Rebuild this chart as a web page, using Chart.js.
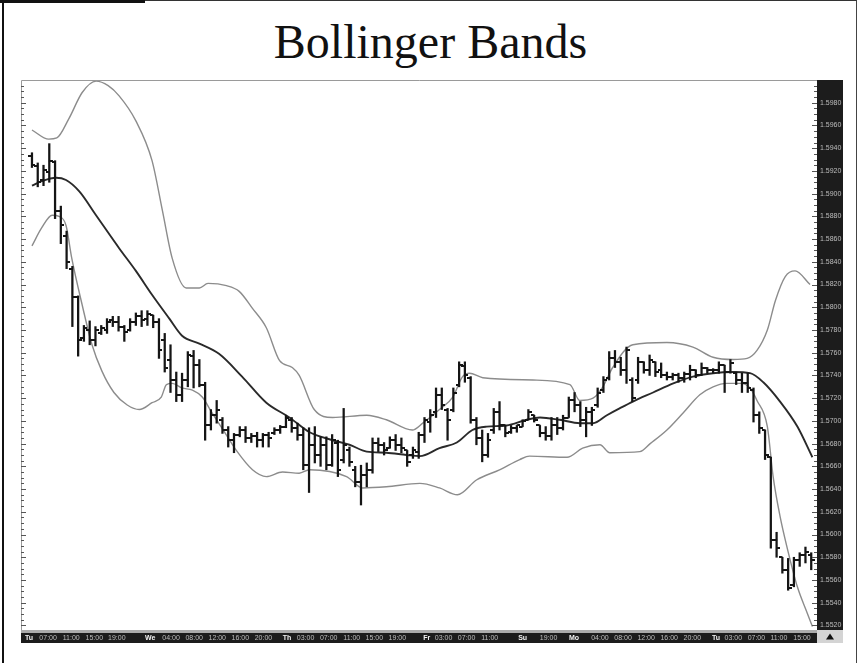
<!DOCTYPE html>
<html>
<head>
<meta charset="utf-8">
<script src="https://cdn.jsdelivr.net/npm/chart.js@4.4.1/dist/chart.umd.min.js"></script>
<style>
  html, body { margin: 0; padding: 0; background: #fff; }
  #wrap { position: relative; width: 861px; height: 663px; overflow: hidden; }
  #frame { position: absolute; left: 2px; top: 0; width: 855px; height: 663px;
           border-left: 2px solid #111; border-top: 1px solid #333; border-right: 1px solid #444; box-sizing: border-box; }
  #bar { position: absolute; left: 0; top: 0; width: 145px; height: 3px; background: #111; }
  #title { position: absolute; left: 0; width: 861px; top: 18px; text-align: center;
           font-family: "Liberation Serif", "DejaVu Serif", serif; font-size: 48px; line-height: 48px; color: #111; }
  canvas { position: absolute; left: 0; top: 0; }
</style>
</head>
<body>
<div id="wrap">
  <div id="frame"></div>
  <div id="bar"></div>
  <div id="title">Bollinger Bands</div>
  <canvas id="myChart" width="861" height="663"></canvas>
</div>
<script>
// hourly OHLC bars, index 0..135
const highs = [1.5936,1.5927,1.5925,1.5944,1.5929,1.5889,1.5867,1.5836,1.5810,1.5784,
  1.5788,1.5783,1.5784,1.5790,1.5792,1.5792,1.5784,1.5790,1.5795,1.5797,
  1.5797,1.5793,1.5790,1.5777,1.5767,1.5743,1.5742,1.5761,1.5762,1.5754,
  1.5734,1.5710,1.5718,1.5703,1.5695,1.5689,1.5695,1.5695,1.5689,1.5690,
  1.5689,1.5690,1.5694,1.5696,1.5705,1.5703,1.5698,1.5694,1.5694,1.5695,
  1.5686,1.5686,1.5688,1.5683,1.5711,1.5677,1.5660,1.5661,1.5663,1.5685,
  1.5685,1.5681,1.5686,1.5688,1.5685,1.5674,1.5677,1.5690,1.5703,1.5710,
  1.5729,1.5729,1.5711,1.5729,1.5752,1.5752,1.5739,1.5703,1.5692,1.5689,
  1.5711,1.5717,1.5696,1.5696,1.5696,1.5701,1.5710,1.5705,1.5696,1.5695,
  1.5703,1.5703,1.5705,1.5721,1.5725,1.5717,1.5712,1.5712,1.5729,1.5739,
  1.5761,1.5762,1.5756,1.5765,1.5738,1.5756,1.5752,1.5758,1.5752,1.5751,
  1.5743,1.5742,1.5742,1.5743,1.5749,1.5745,1.5751,1.5747,1.5746,1.5752,
  1.5749,1.5754,1.5743,1.5742,1.5742,1.5729,1.5708,1.5692,1.5668,1.5602,
  1.5580,1.5579,1.5580,1.5584,1.5589,1.5584];
const lows = [1.5923,1.5906,1.5907,1.5910,1.5878,1.5856,1.5834,1.5783,1.5757,1.5770,
  1.5767,1.5766,1.5776,1.5777,1.5783,1.5779,1.5770,1.5779,1.5784,1.5783,
  1.5784,1.5782,1.5755,1.5743,1.5725,1.5717,1.5717,1.5730,1.5729,1.5730,
  1.5683,1.5692,1.5698,1.5689,1.5677,1.5672,1.5686,1.5681,1.5681,1.5677,
  1.5677,1.5677,1.5688,1.5689,1.5694,1.5690,1.5683,1.5657,1.5637,1.5663,
  1.5660,1.5657,1.5660,1.5651,1.5663,1.5660,1.5642,1.5626,1.5642,1.5654,
  1.5673,1.5670,1.5676,1.5674,1.5672,1.5660,1.5667,1.5667,1.5681,1.5690,
  1.5703,1.5710,1.5683,1.5708,1.5730,1.5734,1.5698,1.5679,1.5664,1.5668,
  1.5689,1.5692,1.5686,1.5689,1.5690,1.5695,1.5701,1.5699,1.5686,1.5683,
  1.5683,1.5688,1.5692,1.5703,1.5708,1.5695,1.5686,1.5696,1.5712,1.5725,
  1.5736,1.5747,1.5740,1.5733,1.5717,1.5733,1.5742,1.5740,1.5739,1.5738,
  1.5736,1.5736,1.5734,1.5734,1.5736,1.5738,1.5740,1.5742,1.5742,1.5742,
  1.5725,1.5742,1.5732,1.5725,1.5725,1.5699,1.5689,1.5666,1.5588,1.5580,
  1.5566,1.5551,1.5554,1.5572,1.5575,1.5569];
const opens = [1.5933,1.5924,1.5912,1.5919,1.5928,1.5885,1.5863,1.5834,1.5809,1.5773,
  1.5780,1.5771,1.5777,1.5780,1.5789,1.5787,1.5783,1.5780,1.5787,1.5792,
  1.5790,1.5793,1.5787,1.5771,1.5754,1.5736,1.5723,1.5736,1.5757,1.5749,
  1.5732,1.5696,1.5705,1.5701,1.5692,1.5683,1.5688,1.5692,1.5685,1.5687,
  1.5683,1.5688,1.5689,1.5692,1.5695,1.5701,1.5694,1.5688,1.5661,1.5679,
  1.5670,1.5679,1.5661,1.5681,1.5666,1.5674,1.5657,1.5646,1.5652,1.5657,
  1.5681,1.5679,1.5676,1.5683,1.5679,1.5674,1.5670,1.5673,1.5688,1.5699,
  1.5708,1.5723,1.5710,1.5710,1.5732,1.5748,1.5738,1.5701,1.5685,1.5670,
  1.5692,1.5708,1.5696,1.5690,1.5694,1.5695,1.5701,1.5705,1.5696,1.5689,
  1.5687,1.5696,1.5694,1.5703,1.5718,1.5714,1.5701,1.5708,1.5714,1.5727,
  1.5738,1.5755,1.5752,1.5745,1.5736,1.5736,1.5752,1.5745,1.5752,1.5745,
  1.5740,1.5739,1.5740,1.5738,1.5741,1.5745,1.5740,1.5747,1.5745,1.5745,
  1.5749,1.5743,1.5742,1.5736,1.5733,1.5727,1.5705,1.5692,1.5668,1.5595,
  1.5580,1.5569,1.5556,1.5578,1.5582,1.5582];
const closes = [1.5925,1.5910,1.5921,1.5929,1.5885,1.5872,1.5840,1.5809,1.5771,1.5782,
  1.5771,1.5780,1.5782,1.5787,1.5787,1.5783,1.5778,1.5787,1.5792,1.5789,
  1.5794,1.5787,1.5762,1.5747,1.5736,1.5723,1.5736,1.5758,1.5749,1.5732,
  1.5696,1.5705,1.5710,1.5692,1.5683,1.5688,1.5692,1.5685,1.5687,1.5683,
  1.5688,1.5685,1.5692,1.5695,1.5703,1.5694,1.5688,1.5661,1.5679,1.5670,
  1.5679,1.5661,1.5683,1.5657,1.5679,1.5664,1.5646,1.5652,1.5657,1.5681,
  1.5679,1.5674,1.5683,1.5679,1.5676,1.5664,1.5674,1.5688,1.5701,1.5705,
  1.5723,1.5714,1.5701,1.5725,1.5749,1.5740,1.5701,1.5685,1.5670,1.5683,
  1.5708,1.5696,1.5689,1.5694,1.5696,1.5700,1.5708,1.5701,1.5689,1.5687,
  1.5696,1.5694,1.5703,1.5718,1.5714,1.5701,1.5708,1.5710,1.5725,1.5736,
  1.5755,1.5752,1.5745,1.5762,1.5720,1.5752,1.5745,1.5754,1.5743,1.5740,
  1.5739,1.5740,1.5738,1.5741,1.5745,1.5740,1.5747,1.5745,1.5745,1.5749,
  1.5743,1.5751,1.5736,1.5733,1.5729,1.5705,1.5694,1.5670,1.5595,1.5588,
  1.5569,1.5553,1.5578,1.5582,1.5585,1.5578];

// bands at the bar index where they were read
const upperX = [0,2.9,4.3,6.4,8.7,11.1,13.2,15.1,18.0,20.8,22.6,24.3,26.7,29.0,30.5,33.7,35.9,38.2,40.6,42.9,
  45.1,46.3,48.9,52.1,58.0,61.4,65.9,67.7,70.6,72.9,74.6,75.8,78.1,86.8,93.2,94.9,97.2,98.9,100.6,104.1,
  110.0,114.5,118.0,121.5,123.9,125.6,127.4,128.8,130.5,132.2,134.8];
const upperY = [1.5956,1.5948,1.5949,1.5966,1.5989,1.5999,1.5995,1.5986,1.5964,1.5929,1.5885,1.5843,1.5817,1.5817,1.5821,1.5819,1.5814,1.5799,1.5782,1.5753,
  1.5747,1.5740,1.5710,1.5703,1.5705,1.5701,1.5692,1.5698,1.5710,1.5721,1.5739,1.5742,1.5738,1.5736,1.5732,1.5718,1.5720,1.5730,1.5747,1.5767,
  1.5769,1.5765,1.5756,1.5754,1.5755,1.5762,1.5780,1.5806,1.5827,1.5832,1.5820];
const midX = [0,1.7,4.2,5.9,8.2,11.1,15.1,18.0,20.8,23.8,26.0,29.0,32.4,36.4,40.6,44.6,48.1,52.1,55.0,58.0,
  61.4,64.9,67.2,70.6,73.6,76.3,78.8,82.2,85.7,88.0,91.4,94.9,97.2,99.6,101.8,104.1,107.6,111.1,114.5,118.0,
  121.5,124.4,126.7,129.6,132.6,135.2];
const midY = [1.5907,1.5911,1.5914,1.5912,1.5902,1.5881,1.5852,1.5832,1.5811,1.5790,1.5775,1.5768,1.5759,1.5739,1.5716,1.5703,1.5690,1.5683,1.5679,1.5673,
  1.5672,1.5670,1.5669,1.5676,1.5681,1.5692,1.5695,1.5696,1.5701,1.5703,1.5701,1.5698,1.5698,1.5705,1.5711,1.5717,1.5725,1.5733,1.5739,1.5742,
  1.5743,1.5742,1.5734,1.5717,1.5695,1.5668];
const lowerX = [0,1.7,3.5,4.7,5.9,6.9,8.7,10.4,12.1,14.2,16.5,18.6,20.8,22.4,23.3,24.3,26.0,27.8,29.5,31.2,
  33.0,35.4,38.2,40.6,43.4,46.3,48.1,54.5,57.3,61.4,67.2,70.6,73.7,77.0,81.0,84.5,86.2,92.7,95.4,98.4,
  100.1,105.3,107.1,110.0,112.8,115.7,118.0,120.4,122.7,124.4,125.6,127.4,128.4,129.6,130.8,132.6,134.3,135.2];
const lowerY = [1.5854,1.5870,1.5881,1.5880,1.5872,1.5843,1.5802,1.5767,1.5744,1.5725,1.5714,1.5710,1.5716,1.5721,1.5732,1.5733,1.5729,1.5727,1.5721,1.5707,
  1.5693,1.5674,1.5657,1.5651,1.5655,1.5654,1.5657,1.5651,1.5641,1.5642,1.5645,1.5641,1.5635,1.5648,1.5657,1.5666,1.5669,1.5668,1.5676,1.5679,
  1.5672,1.5673,1.5680,1.5692,1.5707,1.5723,1.5730,1.5733,1.5733,1.5729,1.5718,1.5695,1.5651,1.5616,1.5589,1.5554,1.5531,1.5519];

// axis labels
const xTickPos = [-0.5,2.8,6.8,10.8,14.7,20.5,24.1,28.1,32.1,36.1,40.1,44.2,47.4,51.4,55.4,59.3,63.3,
  68.4,71.3,75.3,79.3,85.0,89.5,93.9,98.4,102.4,106.4,110.4,114.4,118.5,121.5,125.5,129.4,133.4];
const xTickText = ['Tu','07:00','11:00','15:00','19:00','We','04:00','08:00','12:00','16:00','20:00',
  'Th','03:00','07:00','11:00','15:00','19:00','Fr','03:00','07:00','11:00','Su','19:00',
  'Mo','04:00','08:00','12:00','16:00','20:00','Tu','03:00','07:00','11:00','15:00'];
const yTickValues = [1.5520,1.5540,1.5560,1.5580,1.5600,1.5620,1.5640,1.5660,1.5680,1.5700,1.5720,1.5740,
  1.5760,1.5780,1.5800,1.5820,1.5840,1.5860,1.5880,1.5900,1.5920,1.5940,1.5960,1.5980];

function makeTick(side) {
    const c = document.createElement('canvas');
    c.width = 7; c.height = 2;
    const g = c.getContext('2d');
    g.fillStyle = '#151515';
    if (side === 'left') g.fillRect(0, 0, 3.5, 2);
    else g.fillRect(3.5, 0, 3.5, 2);
    return c;
}

const toPoints = (xs, ys) => xs.map((x, i) => ({ x: x, y: ys[i] }));

const chromePlugin = {
    id: 'chrome',
    beforeDraw(chart) {
        const { ctx, chartArea: a, scales: { x, y } } = chart;
        ctx.save();
        ctx.fillStyle = '#1c1c1c';
        ctx.fillRect(y.left, a.top, y.right - y.left, a.bottom - a.top);
        ctx.fillStyle = '#ababab';
        ctx.fillRect(a.left, a.bottom, a.right - a.left, 3);
        ctx.fillStyle = '#1c1c1c';
        ctx.fillRect(a.left, a.bottom + 3, a.right - a.left, x.bottom - a.bottom - 3);
        ctx.fillStyle = '#d4d4d4';
        ctx.fillRect(y.left, a.bottom, y.right - y.left, x.bottom - a.bottom);
        ctx.restore();
    },
    afterDraw(chart) {
        const { ctx, chartArea: a, scales: { x, y } } = chart;
        ctx.save();
        ctx.strokeStyle = '#9a9a9a';
        ctx.lineWidth = 1;
        ctx.beginPath();
        ctx.moveTo(a.left + 0.5, a.bottom);
        ctx.lineTo(a.left + 0.5, a.top + 0.5);
        ctx.lineTo(a.right, a.top + 0.5);
        ctx.stroke();
        // ruler ticks on both edges
        ctx.strokeStyle = '#555';
        ctx.beginPath();
        for (let k = 0; k <= 95; k++) {
            const py = Math.round(y.getPixelForValue(1.5520 + k * 0.0005)) + 0.5;
            const len = k % 4 === 0 ? 5 : 3;
            ctx.moveTo(a.right - len, py); ctx.lineTo(a.right, py);
            ctx.moveTo(a.left, py); ctx.lineTo(a.left + len, py);
        }
        ctx.stroke();
        // little arrow in the corner box
        const cx = (y.left + y.right) / 2, cy = (a.bottom + x.bottom) / 2;
        ctx.fillStyle = '#111';
        ctx.beginPath();
        ctx.moveTo(cx - 4, cy + 3); ctx.lineTo(cx, cy - 3); ctx.lineTo(cx + 4, cy + 3);
        ctx.closePath();
        ctx.fill();
        ctx.restore();
    }
};

const ctx = document.getElementById('myChart').getContext('2d');
new Chart(ctx, {
    type: 'bar',
    data: {
        datasets: [
            {
                type: 'line', label: 'Upper', data: toPoints(upperX, upperY),
                borderColor: '#8c8c8c', borderWidth: 1.4, pointRadius: 0,
                cubicInterpolationMode: 'monotone', order: 3
            },
            {
                type: 'line', label: 'Lower', data: toPoints(lowerX, lowerY),
                borderColor: '#8c8c8c', borderWidth: 1.4, pointRadius: 0,
                cubicInterpolationMode: 'monotone', order: 3
            },
            {
                type: 'line', label: 'Average', data: toPoints(midX, midY),
                borderColor: '#2a2a2a', borderWidth: 1.9, pointRadius: 0,
                cubicInterpolationMode: 'monotone', order: 2
            },
            {
                type: 'bar', label: 'Range',
                data: highs.map((h, i) => ({ x: i, y: [lows[i], h] })),
                backgroundColor: '#151515', barThickness: 1.6, grouped: false, order: 1
            },
            {
                type: 'line', label: 'Open', data: opens.map((o, i) => ({ x: i, y: o })),
                showLine: false, pointStyle: makeTick('left'), pointRadius: 3, order: 0
            },
            {
                type: 'line', label: 'Close', data: closes.map((c, i) => ({ x: i, y: c })),
                showLine: false, pointStyle: makeTick('right'), pointRadius: 3, order: 0
            }
        ]
    },
    options: {
        responsive: false,
        animation: false,
        events: [],
        layout: { padding: { left: 21, top: 80, right: 18, bottom: 20 } },
        plugins: { legend: { display: false }, tooltip: { enabled: false }, title: { display: false } },
        scales: {
            x: {
                type: 'linear', min: -1.9, max: 136, offset: false,
                grid: { display: false, drawTicks: false },
                border: { display: false },
                afterBuildTicks: (s) => { s.ticks = xTickPos.map(v => ({ value: v })); },
                afterFit: (s) => { s.height = 13; },
                ticks: {
                    autoSkip: false, maxRotation: 0, padding: 4,
                    callback: (v, i) => xTickText[i],
                    color: (c) => xTickText[c.index] && xTickText[c.index].length === 2 ? '#f2f2f2' : '#bdbdbd',
                    font: (c) => ({
                        family: 'Liberation Sans', size: 7,
                        weight: xTickText[c.index] && xTickText[c.index].length === 2 ? 'bold' : 'normal'
                    })
                }
            },
            y: {
                type: 'linear', position: 'right', min: 1.5516, max: 1.6000,
                grid: { display: false, drawTicks: false },
                border: { display: false },
                afterBuildTicks: (s) => { s.ticks = yTickValues.map(v => ({ value: v })); },
                afterFit: (s) => { s.width = 26; },
                ticks: {
                    crossAlign: 'center', padding: 3,
                    callback: (v) => v.toFixed(4),
                    color: '#bdbdbd',
                    font: { family: 'Liberation Sans', size: 7 }
                }
            }
        }
    },
    plugins: [chromePlugin]
});
</script>
</body>
</html>
